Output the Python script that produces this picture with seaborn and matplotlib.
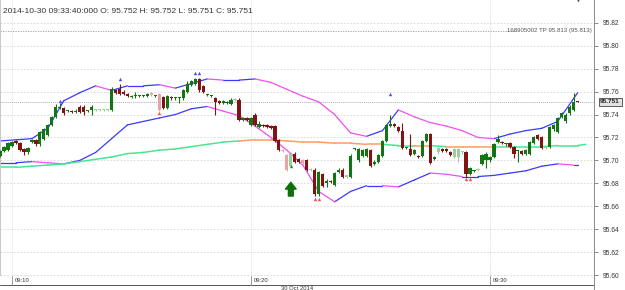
import pandas as pd
import seaborn as sns
import matplotlib.pyplot as plt

sns.set_style('white')
plt.rcParams['font.family'] = ['Liberation Sans', 'DejaVu Sans']

# 10 second bars, 09:09:30 .. 09:33:40
opens = [95.704, 95.708, 95.709, 95.713, 95.717, 95.715, 95.710, 95.707, 95.716, 95.718,
         95.714, 95.719, 95.722, 95.731, 95.738, 95.746, 95.746, 95.743, 95.743, 95.742,
         95.747, 95.747, 95.743, 95.744, 95.744, 95.744, 95.744, 95.744, 95.744, 95.761,
         95.762, 95.760, 95.758, 95.755, 95.756, 95.756, 95.756, 95.756, 95.759, 95.756,
         95.758, 95.755, 95.746, 95.755, 95.754, 95.754, 95.754, 95.760, 95.766, 95.767,
         95.771, 95.765, 95.757, 95.756, 95.754, 95.752, 95.750, 95.750, 95.749, 95.753,
         95.753, 95.735, 95.737, 95.731, 95.740, 95.729, 95.731, 95.731, 95.730, 95.730,
         95.718, 95.709, 95.705, 95.695, 95.706, 95.701, 95.700, 95.700, 95.692, 95.692,
         95.671, 95.688, 95.680, 95.682, 95.679, 95.690, 95.692, 95.686, 95.686, 95.710,
         95.700, 95.704, 95.704, 95.709, 95.697, 95.699, 95.704, 95.717, 95.730, 95.732,
         95.729, 95.726, 95.711, 95.710, 95.706, 95.704, 95.704, 95.717, 95.723, 95.701,
         95.707, 95.710, 95.710, 95.707, 95.703, 95.703, 95.707, 95.707, 95.688, 95.691,
         95.692, 95.697, 95.700, 95.700, 95.703, 95.716, 95.716, 95.714, 95.715, 95.712,
         95.708, 95.708, 95.706, 95.706, 95.715, 95.722, 95.720, 95.711, 95.712, 95.727,
         95.725, 95.738, 95.734, 95.741, 95.744, 95.752]
highs = [95.709, 95.713, 95.716, 95.717, 95.718, 95.716, 95.711, 95.712, 95.719, 95.719,
         95.726, 95.728, 95.732, 95.739, 95.749, 95.750, 95.747, 95.744, 95.744, 95.745,
         95.748, 95.748, 95.744, 95.748, 95.745, 95.745, 95.745, 95.745, 95.764, 95.762,
         95.767, 95.761, 95.759, 95.757, 95.760, 95.757, 95.757, 95.759, 95.760, 95.757,
         95.759, 95.756, 95.757, 95.756, 95.755, 95.755, 95.762, 95.769, 95.770, 95.772,
         95.772, 95.766, 95.758, 95.757, 95.755, 95.753, 95.753, 95.752, 95.754, 95.754,
         95.754, 95.738, 95.738, 95.738, 95.741, 95.734, 95.732, 95.732, 95.731, 95.731,
         95.719, 95.710, 95.706, 95.707, 95.707, 95.702, 95.701, 95.701, 95.693, 95.693,
         95.691, 95.689, 95.684, 95.683, 95.690, 95.693, 95.693, 95.687, 95.706, 95.711,
         95.711, 95.710, 95.711, 95.710, 95.700, 95.706, 95.718, 95.732, 95.740, 95.733,
         95.730, 95.733, 95.712, 95.723, 95.710, 95.705, 95.718, 95.724, 95.724, 95.704,
         95.712, 95.711, 95.711, 95.708, 95.711, 95.711, 95.708, 95.708, 95.694, 95.692,
         95.693, 95.706, 95.707, 95.704, 95.715, 95.722, 95.717, 95.715, 95.716, 95.713,
         95.709, 95.709, 95.710, 95.717, 95.721, 95.723, 95.721, 95.712, 95.730, 95.732,
         95.738, 95.742, 95.741, 95.748, 95.759, 95.752]
lows = [95.703, 95.707, 95.708, 95.712, 95.714, 95.708, 95.705, 95.706, 95.715, 95.713,
        95.713, 95.718, 95.721, 95.730, 95.737, 95.745, 95.740, 95.742, 95.741, 95.741,
        95.741, 95.740, 95.742, 95.740, 95.743, 95.743, 95.743, 95.743, 95.743, 95.758,
        95.757, 95.757, 95.755, 95.754, 95.754, 95.755, 95.755, 95.755, 95.756, 95.755,
        95.743, 95.745, 95.745, 95.753, 95.753, 95.750, 95.753, 95.759, 95.765, 95.766,
        95.760, 95.759, 95.756, 95.755, 95.740, 95.749, 95.749, 95.749, 95.748, 95.752,
        95.734, 95.734, 95.734, 95.730, 95.730, 95.728, 95.729, 95.728, 95.727, 95.716,
        95.708, 95.707, 95.691, 95.694, 95.698, 95.698, 95.697, 95.691, 95.691, 95.669,
        95.669, 95.677, 95.677, 95.680, 95.678, 95.689, 95.685, 95.685, 95.685, 95.709,
        95.699, 95.703, 95.703, 95.694, 95.696, 95.698, 95.703, 95.716, 95.729, 95.729,
        95.725, 95.710, 95.710, 95.704, 95.705, 95.702, 95.703, 95.716, 95.697, 95.700,
        95.706, 95.707, 95.707, 95.704, 95.702, 95.699, 95.706, 95.686, 95.687, 95.690,
        95.691, 95.696, 95.693, 95.699, 95.702, 95.715, 95.714, 95.713, 95.711, 95.702,
        95.699, 95.705, 95.705, 95.705, 95.714, 95.718, 95.710, 95.710, 95.711, 95.726,
        95.724, 95.737, 95.733, 95.740, 95.743, 95.751]
closes = [95.708, 95.712, 95.715, 95.716, 95.715, 95.709, 95.707, 95.711, 95.718, 95.714,
          95.725, 95.727, 95.731, 95.738, 95.747, 95.747, 95.741, 95.743, 95.742, 95.743,
          95.742, 95.742, 95.743, 95.747, 95.744, 95.744, 95.744, 95.744, 95.762, 95.759,
          95.758, 95.758, 95.756, 95.755, 95.756, 95.756, 95.756, 95.758, 95.757, 95.756,
          95.744, 95.746, 95.756, 95.754, 95.754, 95.754, 95.761, 95.767, 95.769, 95.771,
          95.761, 95.760, 95.757, 95.756, 95.751, 95.750, 95.752, 95.751, 95.753, 95.753,
          95.735, 95.737, 95.735, 95.737, 95.731, 95.732, 95.730, 95.729, 95.728, 95.717,
          95.709, 95.708, 95.692, 95.706, 95.699, 95.699, 95.698, 95.692, 95.692, 95.671,
          95.690, 95.678, 95.682, 95.681, 95.689, 95.692, 95.686, 95.686, 95.704, 95.710,
          95.710, 95.709, 95.710, 95.695, 95.699, 95.705, 95.717, 95.731, 95.732, 95.730,
          95.726, 95.711, 95.711, 95.705, 95.709, 95.703, 95.717, 95.723, 95.698, 95.703,
          95.711, 95.708, 95.708, 95.705, 95.710, 95.710, 95.707, 95.688, 95.693, 95.691,
          95.692, 95.705, 95.706, 95.703, 95.714, 95.719, 95.715, 95.714, 95.712, 95.706,
          95.708, 95.706, 95.709, 95.716, 95.720, 95.719, 95.711, 95.711, 95.729, 95.731,
          95.737, 95.741, 95.740, 95.747, 95.751, 95.751]
faded = [24, 25, 26, 27, 38, 40, 59, 71, 72, 73, 76, 78, 87, 110, 114, 115, 116, 120, 137]

# bollinger bands and moving average, read every 4 bars
band_idx = list(range(0, 145, 4)) + [145]
upper = [95.717, 95.718, 95.719, 95.728, 95.752, 95.759, 95.765, 95.761, 95.765, 95.765,
         95.766, 95.763, 95.767, 95.771, 95.770, 95.770, 95.771, 95.768, 95.762, 95.756,
         95.751, 95.740, 95.724, 95.721, 95.726, 95.744, 95.738, 95.733, 95.730, 95.726,
         95.720, 95.719, 95.723, 95.726, 95.728, 95.734, 95.754, 95.759]
lower = [95.698, 95.698, 95.699, 95.698, 95.697, 95.700, 95.707, 95.719, 95.731, 95.734,
         95.737, 95.740, 95.745, 95.747, 95.743, 95.739, 95.730, 95.720, 95.709, 95.696,
         95.673, 95.664, 95.673, 95.678, 95.678, 95.677, 95.683, 95.689, 95.688, 95.686,
         95.686, 95.687, 95.689, 95.691, 95.695, 95.697, 95.696, 95.696]
ma_idx = band_idx + [147]
ma = [95.694, 95.694, 95.695, 95.696, 95.697, 95.699, 95.701, 95.703, 95.706, 95.707,
      95.709, 95.710, 95.712, 95.714, 95.716, 95.717, 95.718, 95.718, 95.717, 95.716,
      95.716, 95.715, 95.715, 95.714, 95.714, 95.713, 95.713, 95.713, 95.712, 95.712,
      95.712, 95.712, 95.712, 95.712, 95.712, 95.713, 95.713, 95.713, 95.714]
ma_state = ['up'] * 15 + ['down'] * 9 + ['up', 'up', 'down', 'up'] + ['down'] * 3 + ['up'] * 7

# signals
up_marks_idx = [15, 30, 49, 50, 98]
up_marks_px = [95.752, 95.771, 95.776, 95.776, 95.758]
dn_marks_idx = [40, 79, 80, 117, 118]
dn_marks_px = [95.741, 95.666, 95.666, 95.684, 95.684]
arrow_idx = 73
tp_price = 95.813
last_price = 95.751

bars = pd.DataFrame({'open': opens, 'high': highs, 'low': lows, 'close': closes})
bars['time'] = pd.date_range('2014-10-30 09:09:30', periods=len(bars), freq='10s')
bars['t'] = (bars['time'] - pd.Timestamp('2014-10-30 09:00')).dt.total_seconds() / 60


def bar_t(i):
    return 9.5 + i / 6


def segments(idx, vals, states=None):
    rows = []
    for k in range(len(idx) - 1):
        if states is None:
            st = 'up' if vals[k + 1] >= vals[k] else 'down'
        else:
            st = states[k]
        for j in (k, k + 1):
            rows.append({'t': bar_t(idx[j]), 'v': vals[j], 'seg': k, 'state': st})
    return pd.DataFrame(rows)


W, H = 625, 290
fig = plt.figure(figsize=(W / 100, H / 100), dpi=100)
ax = fig.add_axes([0, 14 / H, 594 / W, 276 / H])
ax_t = fig.add_axes([0, 0, 594 / W, 14 / H])

xmin, xmax = 10 - 12 / 23.9, 10 + 582 / 23.9
ymin, ymax = 95.82 - 253.3 / 1148, 95.82 + 22.7 / 1148

# grid
yticks = [95.60 + 0.02 * k for k in range(12)]
for y in yticks:
    ax.axhline(y, color='#d6d6d6', lw=0.6, ls=(0, (2, 2)), zorder=0)
for m in (10, 20, 30):
    ax.axvline(m, color='#dadada', lw=0.6, ls=(0, (1, 1)), zorder=0)

# bands and moving average
band_pal = {'up': '#3a3aff', 'down': '#f050f0'}
sns.lineplot(data=segments(band_idx, upper), x='t', y='v', units='seg', estimator=None,
             hue='state', palette=band_pal, legend=False, sort=False, lw=0.9, ax=ax, zorder=2)
sns.lineplot(data=segments(band_idx, lower), x='t', y='v', units='seg', estimator=None,
             hue='state', palette=band_pal, legend=False, sort=False, lw=0.9, ax=ax, zorder=2)
sns.lineplot(data=segments(ma_idx, ma, ma_state), x='t', y='v', units='seg', estimator=None,
             hue='state', palette={'up': '#45e891', 'down': '#ff9c62'}, legend=False,
             sort=False, lw=1.1, ax=ax, zorder=2)

# candles
colors = []
for i, (o, c) in enumerate(zip(opens, closes)):
    up = c >= o
    if i in faded:
        colors.append('#98d098' if up else '#e8a4a4')
    else:
        colors.append('#137413' if up else '#7e1414')
ax.vlines(bars['t'], bars['low'], bars['high'], colors=colors, lw=0.8, zorder=3)
body_lo = bars[['open', 'close']].min(axis=1)
body_h = (bars['close'] - bars['open']).abs().clip(lower=0.0009)
ax.bar(bars['t'], body_h, bottom=body_lo, width=0.135, color=colors, lw=0, zorder=4)

# markers
ax.scatter([bar_t(i) for i in up_marks_idx], up_marks_px, marker='^', s=6,
           color='#4a4aff', lw=0, zorder=5)
ax.scatter([bar_t(i) for i in dn_marks_idx], dn_marks_px, marker='^', s=6,
           color='#ff4a4a', lw=0, zorder=5)
ax.scatter([bar_t(arrow_idx)], [95.695], marker='^', s=6, color='#2a8a2a', lw=0, zorder=5)
ax.annotate('', xy=(bar_t(arrow_idx), 95.681), xytext=(bar_t(arrow_idx), 95.669),
            arrowprops=dict(arrowstyle='simple,head_width=1.1,head_length=0.7,tail_width=0.5',
                            color='#0d700d', mutation_scale=7, shrinkA=0, shrinkB=0), zorder=6)

# target line and last price
tp_end = xmin + 518 / 23.9
ax.plot([xmin, tp_end], [tp_price, tp_price], color='#9a9a9a', lw=0.6, ls=(0, (1.5, 1.5)))
ax.text(xmin + 592 / 23.9, tp_price, '168905002 TP 95.813 (95.813)', fontsize=4.4,
        color='#555555', ha='right', va='center')
ax.axhline(last_price, color='#b0b0b0', lw=0.7, ls=(0, (1, 1)), zorder=1)
ax.annotate(f'{last_price:.3f}', xy=(1.0, last_price), xycoords=('axes fraction', 'data'),
            xytext=(4.5, 0), textcoords='offset points', fontsize=4.6, color='#222222',
            fontweight='bold', va='center', ha='left', annotation_clip=False,
            bbox=dict(boxstyle='square,pad=0.25', fc='#e2e2e2', ec='#444444', lw=0.6))
ax.scatter([bar_t(len(bars) - 1)], [ymax], marker='v', s=8, color='#555555', lw=0,
           clip_on=False, zorder=6)

ax.text(0.005, 0.97, '2014-10-30 09:33:40:000 O: 95.752 H: 95.752 L: 95.751 C: 95.751',
        transform=ax.transAxes, fontsize=6, color='#333333', va='top', ha='left')

ax.set_xlim(xmin, xmax)
ax.set_ylim(ymin, ymax)
ax.set_xlabel('')
ax.set_ylabel('')
ax.set_xticks([])
ax.yaxis.tick_right()
ax.set_yticks(yticks)
ax.set_yticklabels([f'{y:.2f}' for y in yticks])
ax.tick_params(axis='y', length=3, width=0.6, color='#777777', pad=3, labelsize=4.8,
               labelcolor='#333333', right=True)
for side in ('left', 'right', 'bottom', 'top'):
    ax.spines[side].set_linewidth(0.7)
ax.spines['top'].set_visible(False)
ax.spines['left'].set_color('#c8c8c8')
ax.spines['right'].set_color('#8a8a8a')
ax.spines['bottom'].set_color('#8a8a8a')

# time axis strip
ax_t.set_xlim(xmin, xmax)
ax_t.set_ylim(0, 1)
ax_t.set_xticks([])
ax_t.set_yticks([])
for side in ('left', 'top', 'bottom'):
    ax_t.spines[side].set_visible(False)
ax_t.spines['right'].set_color('#8a8a8a')
ax_t.spines['right'].set_linewidth(0.7)
ax_t.axhline(0.36, color='#555555', lw=0.7)
for m, lab in zip((10, 20, 30), ('09:10', '09:20', '09:30')):
    ax_t.plot([m, m], [0.36, 1], color='#8a8a8a', lw=0.6)
    ax_t.text(m + 0.1, 0.68, lab, fontsize=4.2, color='#333333', va='center', ha='left')
ax_t.text(xmin + 297 / 23.9, 0.12, '30 Oct 2014', fontsize=4.2, color='#333333',
          va='center', ha='center')

fig.savefig('out.png', dpi=100)
